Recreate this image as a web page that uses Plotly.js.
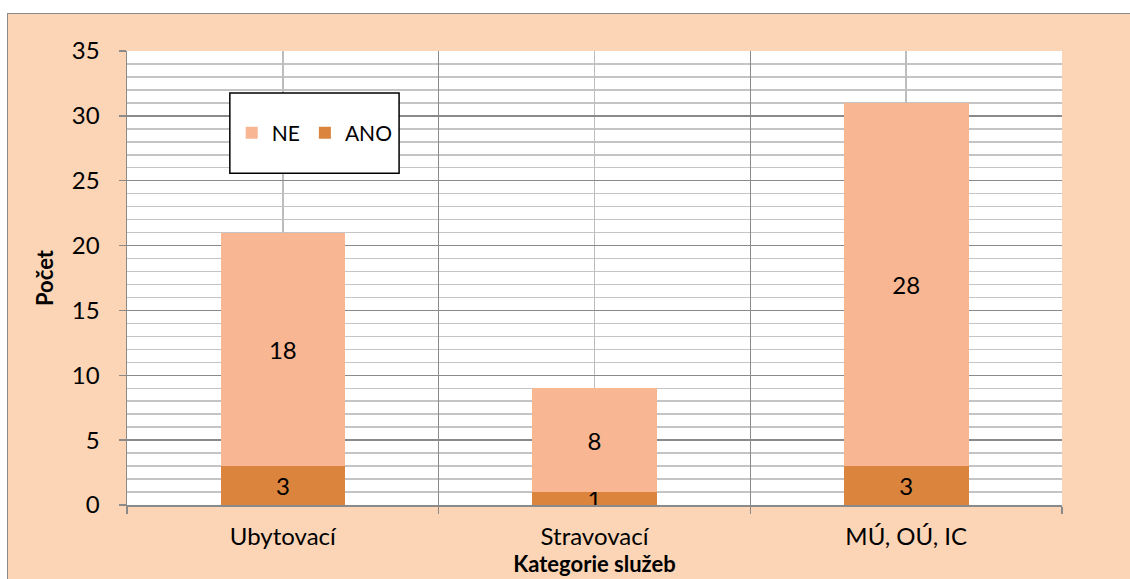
<!DOCTYPE html>
<html>
<head>
<meta charset="utf-8">
<script src="https://cdn.plot.ly/plotly-3.0.1.min.js"></script>
<style>
html,body{margin:0;padding:0;background:#ffffff;width:1130px;height:579px;overflow:hidden;}
#frame{position:absolute;left:7px;top:13px;width:1123px;height:566px;border-left:1px solid #8a8a8a;border-top:1px solid #8a8a8a;box-sizing:border-box;}
#chart{position:absolute;left:8px;top:14px;width:1122px;height:565px;}
</style>
</head>
<body>
<div id="frame"></div>
<div id="chart"></div>
<script>
const categories = ["Ubytovací", "Stravovací", "MÚ, OÚ, IC"];
const anoValues = [3, 1, 3];
const neValues = [18, 8, 28];
const seriesNames = ["ANO", "NE"];
const yTicks = [0, 5, 10, 15, 20, 25, 30, 35];

const fontFam = "Lato, 'Open Sans', sans-serif";
const fs = 24;

const traces = [
  {
    type: "bar", name: seriesNames[0], x: categories, y: anoValues,
    marker: {color: "#DA843E"}, width: 0.4,
    text: anoValues.map(String), textposition: "inside", insidetextanchor: "middle",
    constraintext: "none", textangle: 0,
    textfont: {color: "#000000", size: fs, family: fontFam}, hoverinfo: "skip"
  },
  {
    type: "bar", name: seriesNames[1], x: categories, y: neValues,
    marker: {color: "#F8B692"}, width: 0.4,
    text: neValues.map(String), textposition: "inside", insidetextanchor: "middle",
    constraintext: "none", textangle: 0,
    textfont: {color: "#000000", size: fs, family: fontFam}, hoverinfo: "skip"
  },
  {
    type: "bar", x: categories, y: [0, 0, 0], xaxis: "x2", yaxis: "y",
    showlegend: false, hoverinfo: "skip", marker: {color: "rgba(0,0,0,0)"}
  }
];

const layout = {
  width: 1122, height: 565,
  margin: {l: 119, r: 68, t: 37, b: 74},
  paper_bgcolor: "#FBD5B5",
  plot_bgcolor: "#FFFFFF",
  barmode: "stack",
  font: {family: fontFam, size: fs, color: "#000000"},
  xaxis: {
    type: "category", categoryarray: categories, range: [-0.5, 2.5],
    showgrid: true, gridcolor: "#BDBDBD", gridwidth: 1.5,
    ticks: "", showline: false, zeroline: false,
    ticklabelstandoff: 15,
    tickfont: {size: fs, family: fontFam},
    title: {text: "<b>Kategorie služeb</b>", font: {size: 22, family: fontFam}, standoff: 1}
  },
  xaxis2: {
    type: "category", categoryarray: categories, range: [-0.5, 2.5],
    overlaying: "x", side: "bottom", anchor: "y",
    tickson: "boundaries", showgrid: true, gridcolor: "#8A8A8A", gridwidth: 1.5,
    ticks: "outside", ticklen: 7, tickcolor: "#8A8A8A", tickwidth: 1.5,
    showticklabels: false, showline: true, linecolor: "#8A8A8A", linewidth: 1.5,
    mirror: false, zeroline: false
  },
  yaxis: {
    range: [0, 35], tickvals: yTicks, ticktext: yTicks.map(String),
    showgrid: true, gridcolor: "#8A8A8A", gridwidth: 1.5,
    minor: {dtick: 1, tick0: 0, showgrid: true, gridcolor: "#C4C4C4", gridwidth: 1.5, ticks: ""},
    ticks: "outside", ticklen: 7, tickcolor: "#8A8A8A", tickwidth: 1.5,
    showline: true, linecolor: "#8A8A8A", linewidth: 1.5, zeroline: false,
    ticklabelstandoff: 14,
    tickfont: {size: fs, family: fontFam},
    title: {text: "<b>Počet</b>", font: {size: 22, family: fontFam}, standoff: 12}
  },
  showlegend: true,
  legend: {
    orientation: "h", traceorder: "reversed",
    x: 0.112, y: 0.819, xanchor: "left", yanchor: "middle",
    bgcolor: "rgba(0,0,0,0)", borderwidth: 0,
    font: {size: 21, family: fontFam, color: "#000000"},
    itemwidth: 30
  },
  shapes: [
    {type: "rect", xref: "paper", yref: "paper", x0: 0.110, x1: 0.291, y0: 0.731, y1: 0.9075,
     fillcolor: "#FFFFFF", line: {color: "#000000", width: 1.5}, layer: "above"}
  ]
};

Plotly.newPlot("chart", traces, layout, {displayModeBar: false, staticPlot: true});
</script>
</body>
</html>
